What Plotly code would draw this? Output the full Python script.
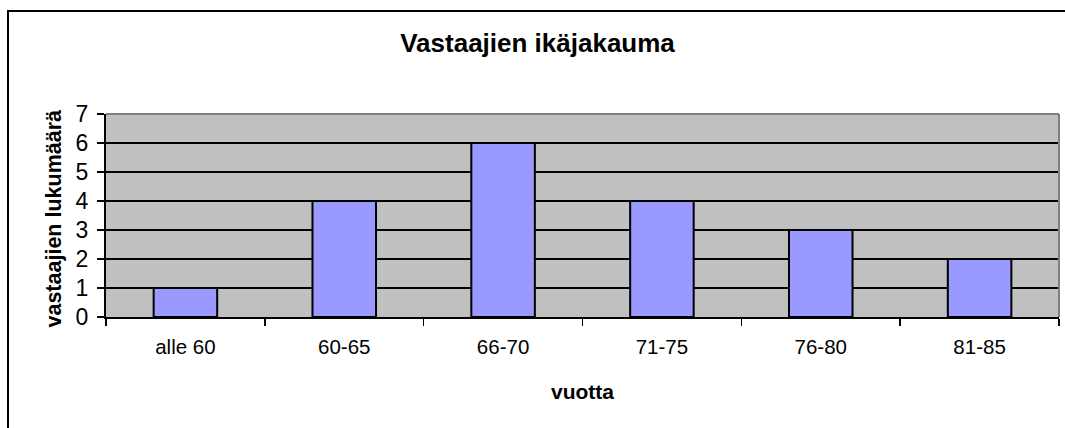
import plotly.graph_objects as go

categories = ["alle 60", "60-65", "66-70", "71-75", "76-80", "81-85"]
counts = [1, 4, 6, 4, 3, 2]
y_ticks = [0, 1, 2, 3, 4, 5, 6, 7]

W, H = 1065, 428
L, R, T, B = 106, 6, 114, 111
pw, ph = W - L - R, H - T - B

def px_x(x):
    return (x - L) / pw

def px_y(y):
    return (H - B - y) / ph

FONT = "Liberation Sans, Arial, sans-serif"

fig = go.Figure()
fig.add_trace(go.Bar(
    x=categories, y=counts,
    marker=dict(color="#9999FF", line=dict(color="black", width=2)),
    showlegend=False,
))

fig.update_layout(
    width=W, height=H,
    margin=dict(l=L, r=R, t=T, b=B),
    paper_bgcolor="white",
    plot_bgcolor="#C0C0C0",
    bargap=0.6,
    font=dict(family=FONT, color="black"),
    title=dict(text="<b>Vastaajien ikäjakauma</b>", x=537.5 / W, y=1 - 43 / H,
               xanchor="center", yanchor="middle",
               font=dict(size=26, family=FONT, color="black")),
    xaxis=dict(
        type="category", range=[-0.5, 5.5],
        tickson="boundaries", ticks="outside", ticklen=7, tickwidth=1.5, tickcolor="black",
        showline=True, linecolor="black", linewidth=2,
        showgrid=False, tickfont=dict(size=20.5, family=FONT, color="black"),
        ticklabelstandoff=10,
    ),
    yaxis=dict(
        range=[0, 7], tickvals=y_ticks, ticks="outside", ticklen=7, tickwidth=1.5,
        tickcolor="black", showline=True, linecolor="black", linewidth=2,
        showgrid=True, gridcolor="black", gridwidth=1.5, zeroline=False,
        tickfont=dict(size=23, family=FONT, color="black"),
        ticklabelstandoff=4,
    ),
    annotations=[
        dict(text="<b>vuotta</b>", xref="paper", yref="paper", x=0.5, y=px_y(391),
             xanchor="center", yanchor="middle", showarrow=False,
             font=dict(size=21, family=FONT, color="black")),
        dict(text="<b>vastaajien lukumäärä</b>", xref="paper", yref="paper",
             x=px_x(53), y=px_y(218.5), textangle=-90,
             xanchor="center", yanchor="middle", showarrow=False,
             font=dict(size=21.5, family=FONT, color="black")),
    ],
    shapes=[
        dict(type="rect", xref="paper", yref="paper",
             x0=px_x(8), x1=px_x(1068), y0=px_y(432), y1=px_y(11),
             line=dict(color="black", width=2), fillcolor="rgba(0,0,0,0)", layer="above"),
        dict(type="line", xref="paper", yref="paper", x0=0, x1=1, y0=1, y1=1,
             line=dict(color="#808080", width=2), layer="above"),
        dict(type="line", xref="paper", yref="paper", x0=1, x1=1, y0=0, y1=1,
             line=dict(color="#808080", width=2), layer="above"),
    ],
)

fig.write_html("out.html", config={"staticPlot": True, "displayModeBar": False},
               post_script="document.body.style.margin='0';document.body.style.overflow='hidden';")
